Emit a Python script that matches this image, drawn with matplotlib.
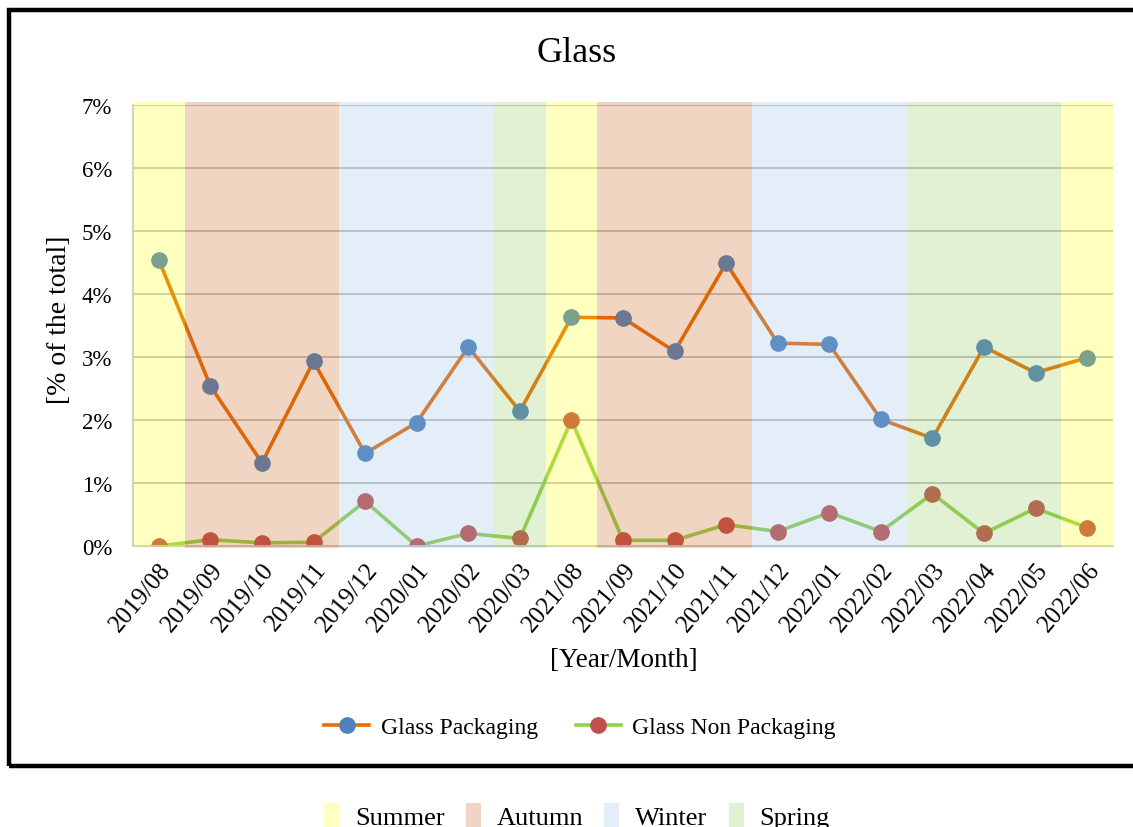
import matplotlib
matplotlib.use("Agg")
import matplotlib.pyplot as plt
from matplotlib.patches import Rectangle, Patch
from matplotlib.lines import Line2D
from matplotlib.ticker import PercentFormatter

plt.rcParams['font.family'] = ['Liberation Serif', 'DejaVu Serif']

months = ["2019/08", "2019/09", "2019/10", "2019/11", "2019/12", "2020/01", "2020/02",
          "2020/03", "2021/08", "2021/09", "2021/10", "2021/11", "2021/12", "2022/01",
          "2022/02", "2022/03", "2022/04", "2022/05", "2022/06"]
seasons = ["Summer", "Autumn", "Autumn", "Autumn", "Winter", "Winter", "Winter",
           "Spring", "Summer", "Autumn", "Autumn", "Autumn", "Winter", "Winter",
           "Winter", "Spring", "Spring", "Spring", "Summer"]
glass_packaging = [4.54, 2.54, 1.32, 2.93, 1.47, 1.96, 3.16, 2.14, 3.63, 3.62,
                   3.09, 4.49, 3.22, 3.20, 2.01, 1.71, 3.16, 2.75, 2.99]
glass_non_packaging = [0.00, 0.10, 0.05, 0.06, 0.71, 0.00, 0.20, 0.12, 2.00, 0.09,
                       0.09, 0.34, 0.23, 0.53, 0.23, 0.83, 0.20, 0.60, 0.29]

season_order = ["Summer", "Autumn", "Winter", "Spring"]
# tint laid over the plot at 25 % opacity, and the resulting light swatch colour
season_tint = {"Summer": "#FFFF00", "Autumn": "#C55A11", "Winter": "#94BCE4", "Spring": "#8CC454"}
season_swatch = {"Summer": "#FFFFBF", "Autumn": "#F0D5C4", "Winter": "#E4EEF8", "Spring": "#E2F0D4"}

fig = plt.figure(figsize=(11.33, 8.28), dpi=100)
ax = fig.add_axes([133 / 1133, 281 / 828, 980 / 1133, 441 / 828])

x = list(range(len(months)))
ax.plot(x, glass_packaging, color="#E46C0A", lw=2.6, marker="o", ms=11,
        markerfacecolor="#4F81BD", markeredgecolor="#4F81BD", zorder=2)
ax.plot(x, glass_non_packaging, color="#92D050", lw=2.6, marker="o", ms=11,
        markerfacecolor="#C0504D", markeredgecolor="#C0504D", zorder=2)

# translucent season bands over the series
start = 0
for i in range(1, len(seasons) + 1):
    if i == len(seasons) or seasons[i] != seasons[start]:
        ax.add_patch(Rectangle((start - 0.5, -0.03), i - start, 7.07,
                               facecolor=season_tint[seasons[start]], alpha=0.25,
                               edgecolor="none", zorder=3, clip_on=False))
        start = i

ax.set_xlim(-0.5, len(months) - 0.5)
ax.set_ylim(0, 7)
ax.set_yticks(range(0, 8))
ax.yaxis.set_major_formatter(PercentFormatter(decimals=0))
ax.grid(axis="y", color="#BFBFBF", lw=1.3, zorder=1)
ax.set_axisbelow(True)
ax.set_xticks(x)
ax.set_xticklabels(months, rotation=50, ha="right", va="top", rotation_mode="anchor",
                   fontsize=18)
ax.tick_params(axis="both", length=0)
ax.tick_params(axis="x", pad=9)
ax.tick_params(axis="y", labelsize=16.5, pad=15)
for side in ("top", "right"):
    ax.spines[side].set_visible(False)
for side in ("left", "bottom"):
    ax.spines[side].set_color("#C8C8C8")
    ax.spines[side].set_linewidth(1.3)

fig.text(577 / 1133, 1 - 53 / 828, "Glass", ha="center", va="center", fontsize=26)
fig.text(60 / 1133, 1 - 320 / 828, "[% of the total]", ha="center", va="center",
         rotation=90, fontsize=20)
fig.text(624 / 1133, 1 - 661 / 828, "[Year/Month]", ha="center", va="center", fontsize=19.5)

series_handles = [
    Line2D([], [], color="#E46C0A", lw=2.6, marker="o", ms=11,
           markerfacecolor="#4F81BD", markeredgecolor="#4F81BD"),
    Line2D([], [], color="#92D050", lw=2.6, marker="o", ms=11,
           markerfacecolor="#C0504D", markeredgecolor="#C0504D"),
]
fig.legend(series_handles, ["Glass Packaging", "Glass Non Packaging"], ncol=2,
           loc="center", bbox_to_anchor=(580 / 1133, 1 - 728 / 828), frameon=False,
           fontsize=17, handlelength=1.9, handletextpad=0.5, columnspacing=1.6)

season_handles = [Patch(facecolor=season_swatch[s], edgecolor="none") for s in season_order]
fig.legend(season_handles, season_order, ncol=4, loc="center",
           bbox_to_anchor=(577 / 1133, 1 - 817 / 828), frameon=False, fontsize=19,
           handlelength=0.57, handleheight=1.0, handletextpad=0.6, columnspacing=0.8)

# outer frame around the chart block
fig.add_artist(Rectangle((9 / 1133, 1 - 767 / 828), 1.2, 756 / 828,
                         transform=fig.transFigure, fill=False, edgecolor="black",
                         lw=3.2, clip_on=False))

fig.savefig("out.png", dpi=100)
